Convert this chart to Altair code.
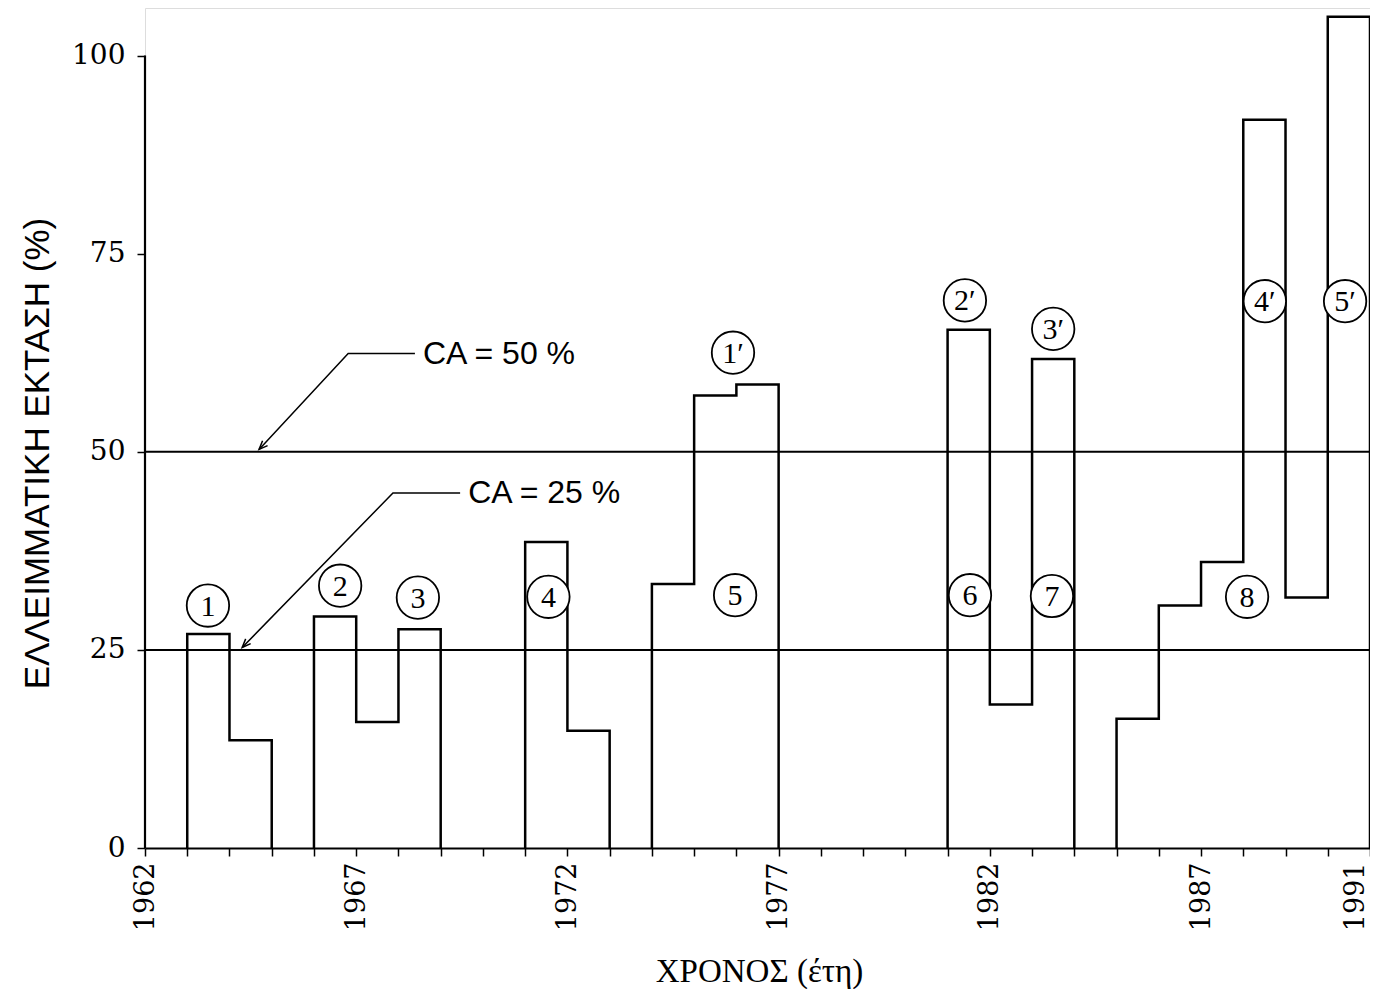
import altair as alt
import pandas as pd

# ---------------- data ----------------
years = list(range(1963, 1991))  # value holds for interval [year, year+1)
values = [27.0, 13.6, 0, 29.2, 15.9, 27.6, 0, 0, 38.6, 14.8, 0, 33.3, 57.1, 58.5,
          0, 0, 0, 0, 65.4, 18.1, 61.7, 0, 16.3, 30.6, 36.1, 91.9, 31.6, 104.9]

label_years = [1962, 1967, 1972, 1977, 1982, 1987, 1991]
tick_years = list(range(1962, 1992))
y_ticks = [0, 25, 50, 75, 100]

ca_levels = [25, 50]
ca_texts = ["CA = 25 %", "CA = 50 %"]
ca_text_x = [1969.65, 1968.58]
ca_text_y = [44.8, 62.4]
leader25_x = [1969.46, 1967.87, 1964.30]
leader25_y = [44.8, 44.8, 25.3]
leader50_x = [1968.39, 1966.81, 1964.70]
leader50_y = [62.4, 62.4, 50.3]

circ_labels = ["1", "2", "3", "4", "5", "6", "7", "8", "1′", "2′", "3′", "4′", "5′"]
circ_x = [1963.49, 1966.62, 1968.46, 1971.55, 1975.97, 1981.53, 1983.47, 1988.09,
          1975.92, 1981.41, 1983.50, 1988.51, 1990.41]
circ_y = [30.6, 33.1, 31.6, 31.7, 31.9, 31.9, 31.8, 31.7,
          62.5, 69.1, 65.5, 69.0, 69.0]

# ---------------- build step outlines from the data ----------------
rows = []
grp = 0
i = 0
n = len(years)
while i < n:
    if values[i] > 0:
        j = i
        pts = [(years[i], 0)]
        while j < n and values[j] > 0:
            pts.append((years[j], values[j]))
            pts.append((years[j] + 1, values[j]))
            j += 1
        pts.append((years[j - 1] + 1, 0))
        for k, (xx, yy) in enumerate(pts):
            rows.append({"x": xx, "y": yy, "g": grp, "o": k})
        grp += 1
        i = j
    else:
        i += 1
outline = pd.DataFrame(rows)

leaders = pd.DataFrame(
    [{"x": a, "y": b, "g": 0, "o": k} for k, (a, b) in enumerate(zip(leader25_x, leader25_y))]
    + [{"x": a, "y": b, "g": 1, "o": k} for k, (a, b) in enumerate(zip(leader50_x, leader50_y))]
)
tips = pd.DataFrame({"x": [leader25_x[-1], leader50_x[-1]], "y": [leader25_y[-1], leader50_y[-1]]})
ca_df = pd.DataFrame({"x": ca_text_x, "y": ca_text_y, "t": ca_texts})
lvl_df = pd.DataFrame({"y": ca_levels})
circ_df = pd.DataFrame({"x": circ_x, "y": circ_y, "t": circ_labels})
yaxis_df = pd.DataFrame({"x": [tick_years[0]], "y": [y_ticks[0]], "y2": [y_ticks[-1]]})

# ---------------- scales / axes ----------------
lab_list = ",".join(str(v) for v in label_years)
xaxis = alt.Axis(
    values=tick_years,
    labelExpr=f"indexof([{lab_list}], datum.value) >= 0 ? format(datum.value, 'd') : ''",
    labelAngle=270, labelFont="DejaVu Serif", labelFontSize=27, labelColor="black",
    labelPadding=6, labelOverlap=False, labelFlush=False, labelBound=False,
    labelOffset={"condition": {"test": f"datum.value == {label_years[-1]}", "value": -15}, "value": 0},
    tickSize=8, tickWidth=1.5, tickColor="black",
    domainColor="black", domainWidth=2.2, grid=False,
    title="ΧΡΟΝΟΣ (έτη)", titleFont="Liberation Serif", titleFontSize=33,
    titleFontWeight="normal", titleColor="black", titleY=123, titleX=614,
    titleBaseline="middle", titleAlign="center",
)
yaxis = alt.Axis(
    values=y_ticks, domain=False, grid=False,
    labelFont="DejaVu Serif", labelFontSize=28, labelColor="black", labelPadding=12,
    tickSize=8, tickWidth=1.5, tickColor="black",
    title="ΕΛΛΕΙΜΜΑΤΙΚΗ ΕΚΤΑΣΗ (%)", titleFont="Liberation Sans",
    titleFontSize=35, titleFontWeight="normal", titleColor="black",
    titleAngle=270, titleX=-108, titleY=445, titleAlign="center", titleBaseline="middle",
)
xs = alt.Scale(domain=[1962, 1991], nice=False, zero=False)
ys = alt.Scale(domain=[0, 106], nice=False, zero=True)
X = alt.X("x:Q", scale=xs, axis=xaxis)
Y = alt.Y("y:Q", scale=ys, axis=yaxis)

bars = alt.Chart(outline).mark_line(color="black", strokeWidth=2.5, strokeJoin="miter").encode(
    x=X, y=Y, detail="g:N", order="o:Q"
)
yline = alt.Chart(yaxis_df).mark_rule(color="black", strokeWidth=2.2).encode(x=X, y=Y, y2="y2:Q")
levels = alt.Chart(lvl_df).mark_rule(color="black", strokeWidth=2).encode(y=Y)
lead = alt.Chart(leaders).mark_line(color="black", strokeWidth=1.5).encode(
    x=X, y=Y, detail="g:N", order="o:Q"
)
heads = alt.Chart(tips).mark_point(
    shape="M -0.4 1 L 0 0 L 0.4 1", size=300, angle=224, filled=False,
    stroke="black", strokeWidth=1.5, opacity=1
).encode(x=X, y=Y)
ca_text = alt.Chart(ca_df).mark_text(
    align="left", baseline="middle", font="Liberation Sans", fontSize=32, color="black"
).encode(x=X, y=Y, text="t:N")
circles = alt.Chart(circ_df).mark_point(
    shape="circle", size=1800, filled=True, fill="white", stroke="black", strokeWidth=1.8, opacity=1
).encode(x=X, y=Y)
circ_text = alt.Chart(circ_df).mark_text(
    align="center", baseline="middle", font="Liberation Serif", fontSize=30, color="black", dy=1
).encode(x=X, y=Y, text="t:N")

chart = alt.layer(bars, yline, levels, lead, heads, ca_text, circles, circ_text).properties(
    width=1225, height=840,
    padding={"left": 137, "top": 0, "right": 0, "bottom": 141},
    autosize=alt.AutoSizeParams(type="none"),
).configure_view(strokeWidth=0).configure(background="white")

chart.save("out.html", embed_options={"renderer": "svg", "actions": False})
